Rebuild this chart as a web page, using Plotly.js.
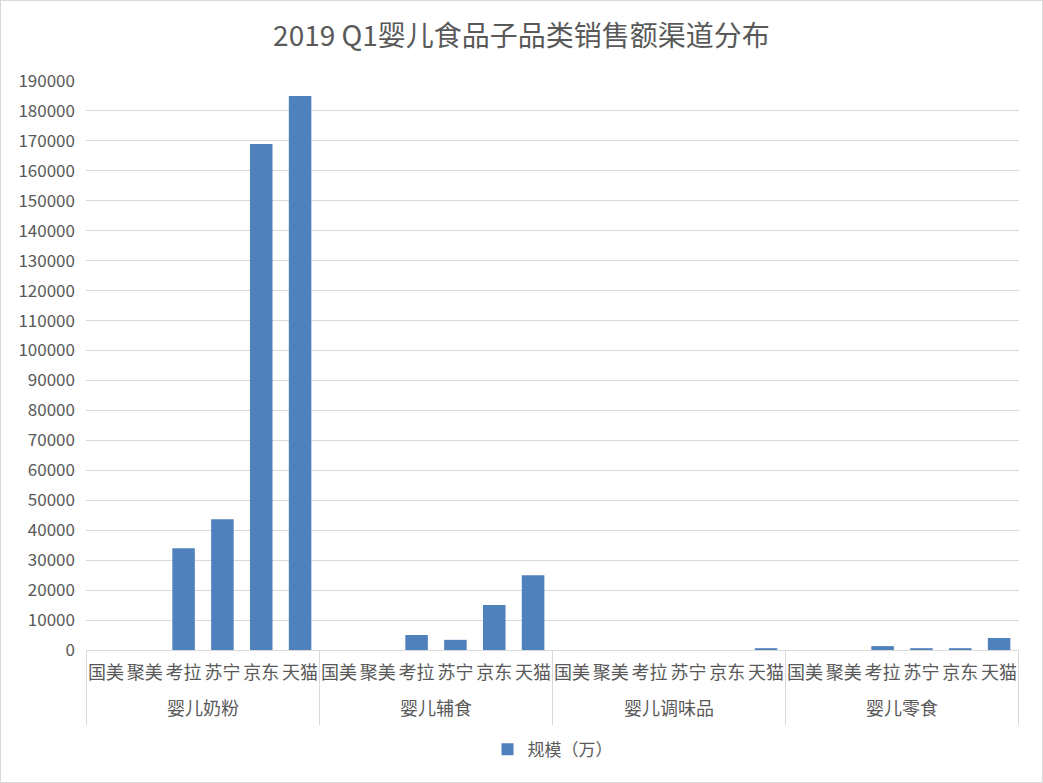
<!DOCTYPE html>
<html>
<head>
<meta charset="utf-8">
<script src="https://cdn.plot.ly/plotly-3.0.1.min.js"></script>
<style>
  body { margin: 0; background: #fff; }
  #chart { width: 1041px; height: 781px; border: 1px solid #d9d9d9; }
</style>
</head>
<body>
<div id="chart"></div>
<script>
// 子品类和渠道
const categories = ['婴儿奶粉', '婴儿辅食', '婴儿调味品', '婴儿零食']
const channels = ['国美', '聚美', '考拉', '苏宁', '京东', '天猫']

// 规模（万），按渠道顺序
const milkPowder = [0, 0, 34000, 43700, 169000, 185000]
const complementary = [0, 0, 5000, 3400, 15000, 25000]
const seasoning = [0, 0, 0, 0, 0, 600]
const snacks = [0, 0, 1300, 600, 600, 4000]

const yTicks = []
for (let v = 0; v <= 190000; v += 10000) yTicks.push(v)

let keys = []
let labels = []
let values = []
const groups = [milkPowder, complementary, seasoning, snacks]
categories.forEach((cat, i) => {
  channels.forEach((ch, j) => {
    keys.push(cat + '-' + ch)
    labels.push(ch)
    values.push(groups[i][j])
  })
})

const textFont = {family: 'Noto Sans CJK SC, Noto Sans, sans-serif', color: '#595959'}

// 分组标签和分隔线
let annotations = []
let shapes = []
const n = channels.length
categories.forEach((cat, i) => {
  annotations.push({
    text: cat,
    xref: 'x', yref: 'paper',
    x: i * n + (n - 1) / 2, y: -0.1,
    yanchor: 'middle', showarrow: false,
    font: Object.assign({}, textFont, {size: 18})
  })
})
for (let i = 0; i <= categories.length; i++) {
  shapes.push({
    type: 'line', xref: 'x', yref: 'paper',
    x0: i * n - 0.5, x1: i * n - 0.5, y0: 0, y1: -0.132,
    line: {color: '#d9d9d9', width: 1}
  })
}

Plotly.newPlot('chart', [{
  type: 'bar',
  name: '规模（万）',
  x: keys,
  y: values,
  marker: {color: '#4f81bd'},
  showlegend: true
}], {
  width: 1041,
  height: 781,
  margin: {l: 85, r: 23, t: 80, b: 132},
  paper_bgcolor: '#fff',
  plot_bgcolor: '#fff',
  bargap: 0.42,
  title: {
    text: '2019 Q1婴儿食品子品类销售额渠道分布',
    font: Object.assign({}, textFont, {size: 28}),
    x: 0.5, xanchor: 'center', y: 0.955, yanchor: 'middle'
  },
  xaxis: {
    type: 'category',
    tickvals: keys,
    ticktext: labels,
    tickangle: 0,
    tickfont: Object.assign({}, textFont, {size: 18}),
    showline: true,
    linecolor: '#d9d9d9',
    linewidth: 1,
    showgrid: false,
    ticks: '',
    ticklabelstandoff: 6
  },
  yaxis: {
    range: [0, 190000],
    tickvals: yTicks,
    ticktext: yTicks.map(String),
    tickfont: Object.assign({}, textFont, {size: 17}),
    gridcolor: '#d9d9d9',
    gridwidth: 1,
    zeroline: false,
    showline: false,
    ticklabelstandoff: 10
  },
  annotations: annotations,
  shapes: shapes,
  legend: {
    orientation: 'h',
    x: 0.5, xanchor: 'center',
    y: -0.175, yanchor: 'middle',
    font: Object.assign({}, textFont, {size: 17})
  }
}, {displayModeBar: false, staticPlot: true})
</script>
</body>
</html>
